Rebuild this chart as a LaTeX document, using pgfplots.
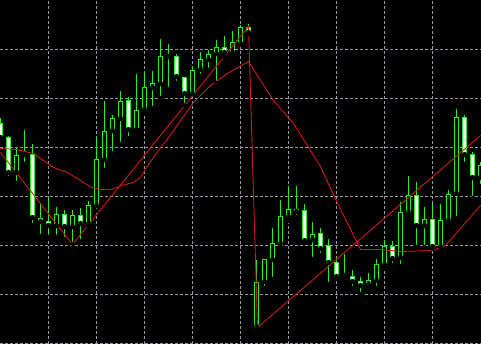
\documentclass[border=0pt]{standalone}
\usepackage{pgfplots}
\usepackage{pgfplotstable}
\pgfplotsset{compat=1.18}
\definecolor{candle}{RGB}{40,235,40}
\definecolor{gridc}{RGB}{150,156,170}
\definecolor{mared}{RGB}{210,25,30}

% white-bodied candles: x low high bodybottom bodytop
\pgfplotstableread{
x lo hi bb bt
0 203 225 206 220
8 166 207 171 206
32 119 199 126 189
40 108 139 122 125
48 107 145 118 122
64 105 133 117 129
80 103 135 120 128
128 206 246 214 243
176 261 289 267 287
184 239 266 250 266
224 287 307 291 296
248 310 319 311 316
296 127 157 132 134
304 102 139 103 133
320 89 115 95 110
328 60 104 81 98
336 65 86 67 81
352 56 73 62 67
360 50 66 58 62
392 79 102 85 97
416 97 161 118 148
432 95 139 97 124
464 180 228 189 226
472 146 191 166 189
}\bear

% hollow (black) candles and dojis
\pgfplotstableread{
x lo hi bb bt
16 161 195 171 188
24 180 213 189 189
56 107 136 118 129
72 100 133 117 128
88 116 142 120 138
96 133 206 138 184
104 174 242 184 212
112 191 228 213 225
120 200 252 225 242
136 214 269 214 233
144 232 271 234 256
152 236 272 256 260
160 246 304 260 287
168 255 299 287 287
192 250 276 250 273
200 268 291 274 284
208 274 293 284 289
216 261 303 290 296
232 290 312 291 301
240 299 318 300 316
256 16 83 17 61
264 56 84 62 84
272 65 115 84 100
280 96 143 100 127
288 123 157 127 134
312 85 121 104 109
344 67 89 68 68
368 59 70 59 63
376 56 84 63 79
384 76 103 79 97
400 78 141 86 131
408 128 167 131 148
424 97 136 118 124
440 97 139 97 123
448 121 153 123 149
456 126 234 150 226
480 158 181 166 178
}\bull

\pgfplotstableread{
x y
0 191
72 99
248 317
257 16
480 208
}\zigzag

\pgfplotstableread{
x y
0 195
16 194
33 190
53 176
67 171
80 163
91 156
100 154
111 154
121 158
133 161
140 166
148 179
160 196
166 203
193 241
210 258
227 270
248 282
273 243
293 220
320 177
337 140
360 94
380 94
400 92
433 93
445 98
480 138
}\maline

\pgfplotsset{
  wick/.style={only marks, mark=none,
    error bars/.cd, y dir=plus, y explicit, error mark=none,
    error bar style={candle, line width=1pt}},
  body/.style={only marks, mark=none,
    error bars/.cd, y dir=plus, y explicit, error mark=none,
    error bar style={candle, line width=5pt}},
  fillbody/.style={only marks, mark=none,
    error bars/.cd, y dir=plus, y explicit, error mark=none,
    error bar style={#1, line width=3pt}},
}

\begin{document}
\begin{tikzpicture}
\begin{axis}[
  width=481pt, height=344pt, scale only axis,
  xmin=-0.5, xmax=480.5, ymin=-0.5, ymax=343.5,
  axis background/.style={fill=black},
  axis line style={draw=none},
  xtick={48,96,...,432}, ytick={0,49,...,294},
  xticklabels={}, yticklabels={},
  major tick length=0pt,
  grid=major,
  major grid style={gridc, line width=0.7pt, dash pattern=on 3pt off 2pt},
]
% wicks
\addplot[wick] table[x=x, y expr=\thisrow{lo}-0.5, y error expr=\thisrow{hi}-\thisrow{lo}+1] {\bear};
\addplot[wick] table[x=x, y expr=\thisrow{lo}-0.5, y error expr=\thisrow{hi}-\thisrow{lo}+1] {\bull};
% body outlines
\addplot[body] table[x=x, y expr=\thisrow{bb}-0.5, y error expr=\thisrow{bt}-\thisrow{bb}+1] {\bear};
\addplot[body] table[x=x, y expr=\thisrow{bb}-0.5, y error expr=\thisrow{bt}-\thisrow{bb}+1] {\bull};
% body fills
\addplot[fillbody=white] table[x=x, y expr=\thisrow{bb}+0.5, y error expr={max(\thisrow{bt}-\thisrow{bb}-1,0)}] {\bear};
\addplot[fillbody=black] table[x=x, y expr=\thisrow{bb}+0.5, y error expr={max(\thisrow{bt}-\thisrow{bb}-1,0)}] {\bull};
% indicator lines
\addplot[mared, line width=0.9pt, mark=none] table {\maline};
\addplot[mared, line width=0.9pt, mark=none] table {\zigzag};
\end{axis}
\pgfresetboundingbox
\path[use as bounding box] (current axis.south west) rectangle (current axis.north east);
\end{tikzpicture}
\end{document}
